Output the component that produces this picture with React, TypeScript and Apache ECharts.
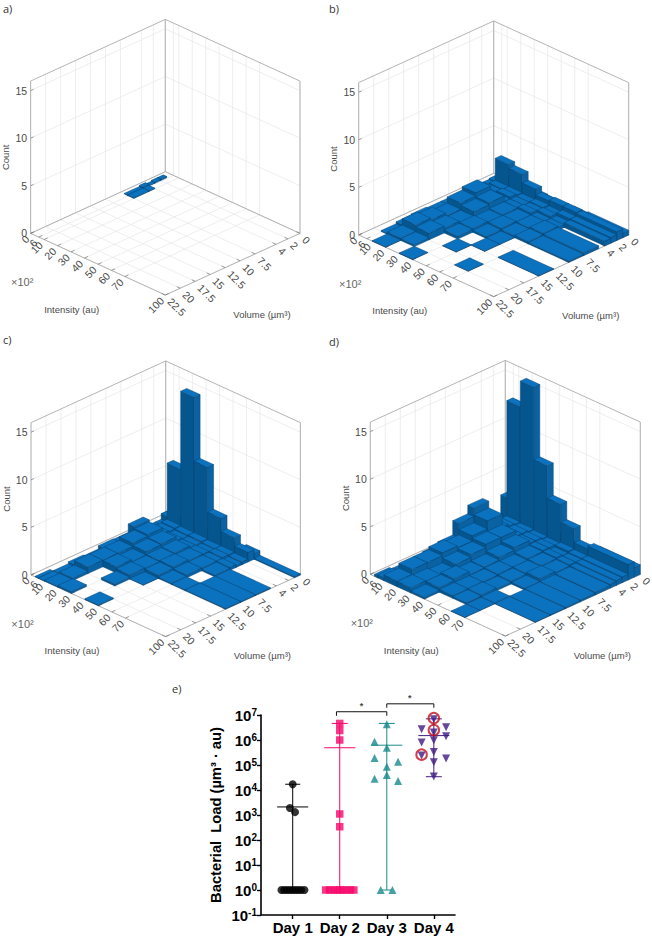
import React, { useEffect, useRef } from "react";
import * as echarts from "echarts";

// ---------- 3D histogram data ----------
const intensityEdges = [3, 5.5, 10, 20, 30, 40, 50, 60, 70, 100];
const volumeEdges = [0, 1, 2, 3, 4, 5, 7.5, 10, 12.5, 15, 17.5, 20, 22.5];
const intensityTicks = [0, 6, 10, 20, 30, 40, 50, 60, 70, 100];
const volumeTicks = [0, 2, 4, 7.5, 10, 12.5, 15, 17.5, 20, 22.5];
const countTicks = [0, 5, 10, 15];

// rows: volume bins, columns: intensity bins
const countsA = [
  [0, 0, 0, 0, 0, 0, 0, 0, 0],
  [0.15, 0, 0, 0, 0, 0, 0, 0, 0],
  [0.15, 0, 0, 0, 0, 0, 0, 0, 0],
  [0.05, 0, 0, 0, 0, 0, 0, 0, 0],
  [0.2, 0.08, 0, 0, 0, 0, 0, 0, 0],
  [0.08, 0.08, 0, 0, 0, 0, 0, 0, 0],
];
const countsB = [
  [0, 0, 0.4, 0.4, 0.4, 0.3, 0.3, 0.4, 0.5],
  [0, 0.4, 2.8, 2.4, 1.5, 0.9, 1.0, 1.0, 0.9],
  [0, 0.3, 0.5, 0.5, 0.4, 0.5, 0.4, 0.6, 0.6],
  [0, 0.3, 0.4, 0.6, 0.4, 0.4, 0.5, 0.3, 0.5],
  [0, 0.2, 0.5, 0.4, 0.4, 0.5, 0.3, 0.3, 0],
  [0, 0.4, 1.4, 1.0, 0.4, 0.3, 0.3, 0.4, 0.3],
  [0, 0.3, 1.05, 0.8, 0.3, 0.35, 0.2, 0.25, 0.15],
  [0, 0.3, 0.4, 0.3, 0.4, 0.2, 0.05, 0, 0],
  [0, 0.4, 0.7, 0.5, 0.3, 0, 0.05, 0, 0.05],
  [0, 0.3, 0.9, 0.7, 0, 0.05, 0, 0, 0],
  [0, 0.1, 0.25, 0.2, 0, 0, 0, 0.05, 0],
  [0, 0, 0.05, 0, 0.05, 0, 0, 0, 0],
];
const countsC = [
  [0, 0.1, 0.3, 0.3, 0.3, 0.3, 0.3, 0.6, 0.12],
  [0, 0.9, 6.5, 14.7, 8, 3.3, 1.9, 1, 0],
  [0, 0.3, 0.6, 0.5, 0.5, 0.4, 0.4, 0.3, 0],
  [0, 0.3, 0.5, 0.4, 0.4, 0.3, 0.4, 0.2, 0],
  [0, 0.3, 0.6, 0.5, 0.4, 0.4, 0.3, 0.3, 0],
  [0, 1.4, 1.2, 0.9, 0.6, 0.4, 0.3, 0.2, 0.1],
  [0, 0.5, 1.05, 0.8, 0.5, 0.5, 0.3, 0, 0.1],
  [0, 0.55, 0.7, 0.45, 0.4, 0.35, 0.15, 0.1, 0.1],
  [0, 0.2, 0.7, 0.65, 0.45, 0.05, 0, 0, 0],
  [0, 0.3, 0.7, 0, 0.2, 0, 0, 0, 0],
  [0, 0.1, 0.25, 0, 0, 0, 0, 0, 0],
  [0.05, 0.05, 0.1, 0.2, 0, 0.1, 0, 0, 0],
];
const countsD = [
  [0, 0.3, 0.6, 0.6, 0.5, 0.5, 0.4, 0.4, 1.0],
  [0, 2.8, 13, 15.7, 8.1, 4.7, 2.8, 1.3, 1.6],
  [0, 0.6, 0.9, 0.8, 0.7, 0.6, 0.7, 0.6, 0.6],
  [0, 0.8, 1.0, 0.9, 0.8, 0.7, 0.5, 0.5, 0.5],
  [0, 0.8, 1.2, 0.9, 0.8, 0.7, 0.6, 0.5, 0.4],
  [0, 3.3, 2.6, 1.5, 1.1, 0.6, 0.5, 0.4, 0.3],
  [0, 2.4, 1.75, 1.5, 0.8, 0.4, 0.4, 0.5, 0.2],
  [0, 0.9, 1.2, 1.15, 0.5, 0.4, 0.3, 0.2, 0.15],
  [0, 0.6, 1.4, 0.85, 0.4, 0.3, 0.2, 0, 0.1],
  [0, 0.4, 1.1, 0.35, 0.7, 0.3, 0.3, 0.1, 0.05],
  [0, 0.3, 1.1, 0.5, 0.5, 0.3, 0.2, 0.05, 0],
  [0.2, 0.3, 0.6, 0.55, 0.2, 0, 0, 0.05, 0],
];

// ---------- Bacterial load data ----------
const dayLabels = ["Day 1", "Day 2", "Day 3", "Day 4"];
const day1Points = [
  [1, 1.7e4], [0.94, 1.9e3], [1.05, 1.3e3],
  [0.76, 1], [0.82, 1], [0.88, 1], [0.94, 1], [1, 1], [1.06, 1], [1.12, 1], [1.18, 1], [1.25, 1],
];
const day2Points = [
  [2, 4.6e6], [2, 2.4e6], [2, 1.0e6], [2, 1.1e3], [2, 3.4e2],
  [1.7, 1], [1.78, 1], [1.86, 1], [1.94, 1], [2, 1], [2.07, 1], [2.15, 1], [2.23, 1], [2.3, 1],
];
const day3Points = [
  [3, 4.3e6], [2.74, 8.5e5], [3, 4.9e5], [2.74, 1.9e5], [3.24, 1.35e5],
  [3, 8.5e4], [3, 4e4], [2.74, 2.8e4], [3.24, 2.3e4], [2.87, 1], [3.12, 1],
];
const day4Points = [
  [4, 6.7e6], [3.74, 2.7e6], [4.26, 3.2e6], [4, 2.0e6], [4.26, 1.4e6], [3.74, 7.9e5],
  [4, 9.8e5], [4, 3.3e5], [3.74, 2.4e5], [4, 1.3e5], [4.26, 1.8e5], [4, 3.5e4],
];
const day4Circled = [[4, 7.5e6], [4, 2.5e6], [3.74, 2.6e5]];
const summaries = [
  { day: 1, mean: 2.1e3, hi: 1.7e4, lo: 1, w: 0.33, cap: 0.16, color: "#000000" },
  { day: 2, mean: 4.9e5, hi: 4.6e6, lo: 1, w: 0.33, cap: 0.17, color: "#f5086c" },
  { day: 3, mean: 6.2e5, hi: 4.6e6, lo: 1, w: 0.33, cap: 0.17, color: "#1b8a8e" },
  { day: 4, mean: 1.5e6, hi: 7e6, lo: 3.4e4, w: 0.33, cap: 0.17, color: "#431c85" },
];
const bracketA = [[1.93, 9.3e6], [1.93, 1.35e7], [3, 1.35e7], [3, 9.3e6]];
const bracketB = [[3, 1.95e7], [3, 2.8e7], [4, 2.8e7], [4, 1.95e7]];
const stars = [[2.46, 2.3e7], [3.49, 4.8e7]];

// ---------- Layout of the four 3D boxes ----------
const panels = [
  { tag: "a)", tagX: 3, tagY: 8, backX: 165.3, backY: 171.7, half: 134.67, counts: countsA },
  { tag: "b)", tagX: 329, tagY: 8, backX: 493.7, backY: 173.3, half: 135, counts: countsB },
  { tag: "c)", tagX: 3, tagY: 339, backX: 165.7, backY: 513.3, half: 134.67, counts: countsC },
  { tag: "d)", tagX: 329, tagY: 341, backX: 505.3, backY: 512.7, half: 135, counts: countsD },
];
const DROP = 61.67;
const UNIT = 9.52;
const ZMAX = 16;
const TICK_FONT = '10.5px "Liberation Sans"';
const TEXT = "#4a4a4a";
const GRIDC = "#e6e6e6";
const BOX = "#ababab";

type P = (typeof panels)[number];
const project = (p: P, i: number, v: number, z: number): number[] => [
  p.backX + (i / 100) * p.half - (v / 22.5) * p.half,
  p.backY + (i / 100) * DROP + (v / 22.5) * DROP - z * UNIT,
];

const line = (a: number[], b: number[], stroke: string, lineWidth = 0.7) => ({
  type: "line",
  shape: { x1: a[0], y1: a[1], x2: b[0], y2: b[1] },
  style: { stroke, lineWidth },
  silent: true,
});
const label = (x: number, y: number, text: string, rotation = 0, align = "center", font = TICK_FONT, fill = TEXT) => ({
  type: "text",
  x,
  y,
  rotation,
  style: { text, font, fill, align, verticalAlign: "middle" },
  silent: true,
});

function frameSeries(p: P) {
  return {
    type: "custom",
    coordinateSystem: "none",
    silent: true,
    z: 1,
    data: [[0]],
    renderItem: () => {
      const ch: any[] = [];
      for (const t of intensityTicks) {
        ch.push(line(project(p, t, 0, 0), project(p, t, 22.5, 0), GRIDC));
        ch.push(line(project(p, t, 0, 0), project(p, t, 0, ZMAX), GRIDC));
      }
      for (const t of volumeTicks) {
        ch.push(line(project(p, 0, t, 0), project(p, 100, t, 0), GRIDC));
        ch.push(line(project(p, 0, t, 0), project(p, 0, t, ZMAX), GRIDC));
      }
      for (const t of countTicks) {
        ch.push(line(project(p, 0, 22.5, t), project(p, 0, 0, t), GRIDC));
        ch.push(line(project(p, 0, 0, t), project(p, 100, 0, t), GRIDC));
      }
      const L0 = project(p, 0, 22.5, 0), L1 = project(p, 0, 22.5, ZMAX);
      const R0 = project(p, 100, 0, 0), R1 = project(p, 100, 0, ZMAX);
      const B0 = project(p, 0, 0, 0), B1 = project(p, 0, 0, ZMAX);
      const F0 = project(p, 100, 22.5, 0);
      [[L0, L1], [R0, R1], [B0, B1], [L1, B1], [B1, R1], [L0, B0], [B0, R0], [L0, F0], [F0, R0]].forEach(([a, b]) =>
        ch.push(line(a, b, BOX, 0.9))
      );
      for (const t of intensityTicks) {
        const a = project(p, t, 22.5, 0);
        ch.push(line(a, project(p, t, 21.9, 0), "#777777", 0.7));
        ch.push(label(a[0] - 3, a[1] + 4, String(t), Math.PI / 4, "right"));
      }
      for (const t of volumeTicks) {
        const a = project(p, 100, t, 0);
        ch.push(line(a, project(p, 97.4, t, 0), "#777777", 0.7));
        ch.push(label(a[0] + 4, a[1] + 5, String(t), -Math.PI / 4, "left"));
      }
      for (const t of countTicks) {
        const a = project(p, 0, 22.5, t);
        ch.push(line(a, [a[0] + 3, a[1] - 1.3], "#777777", 0.7));
        ch.push(label(a[0] - 3.5, a[1], String(t), 0, "right"));
      }
      ch.push(label(L0[0] - 25, L0[1] - 76, "Count", Math.PI / 2, "center", '9.5px "Liberation Sans"'));
      ch.push(label(L0[0] + 41, F0[1] + 14, "Intensity (au)", 0, "center", '9.5px "Liberation Sans"'));
      ch.push(label(R0[0] - 38, F0[1] + 19, "Volume (µm³)", 0, "center", '9.5px "Liberation Sans"'));
      ch.push(label(L0[0] - 8.5, F0[1] - 13, "×10²", 0, "center", '11px "Liberation Sans"', "#666666"));
      ch.push(label(p.tagX, p.tagY, p.tag, 0, "left", '11px "Open Sans"', "#333333"));
      return { type: "group", children: ch };
    },
  };
}

function barsSeries(p: P) {
  const data: number[][] = [];
  p.counts.forEach((row, v) => row.forEach((c, i) => { if (c > 0) data.push([i, v, c]); }));
  return {
    type: "custom",
    coordinateSystem: "none",
    silent: true,
    z: 2,
    data,
    renderItem: (_: any, api: any) => {
      const ib = api.value(0), vb = api.value(1), c = api.value(2);
      const i0 = intensityEdges[ib], i1 = intensityEdges[ib + 1];
      const v0 = volumeEdges[vb], v1 = volumeEdges[vb + 1];
      const stroke = "#06406d";
      const lineWidth = 0.45;
      const poly = (pts: number[][], fill: string) => ({
        type: "polygon",
        shape: { points: pts },
        style: { fill, stroke, lineWidth },
        silent: true,
      });
      return {
        type: "group",
        children: [
          poly([project(p, i0, v1, 0), project(p, i1, v1, 0), project(p, i1, v1, c), project(p, i0, v1, c)], "#05568f"),
          poly([project(p, i1, v1, 0), project(p, i1, v0, 0), project(p, i1, v0, c), project(p, i1, v1, c)], "#0a62a3"),
          poly([project(p, i0, v0, c), project(p, i1, v0, c), project(p, i1, v1, c), project(p, i0, v1, c)], "#0b72bf"),
        ],
      };
    },
  };
}

function loadSeries() {
  const xy = { xAxisIndex: 0, yAxisIndex: 0 };
  const seg = (pts: number[][], color: string, width: number) => ({
    type: "line",
    ...xy,
    data: pts,
    symbol: "none",
    clip: false,
    silent: true,
    z: 3,
    lineStyle: { color, width },
  });
  const out: any[] = [];
  for (const s of summaries) {
    out.push(seg([[s.day, s.hi], [s.day, s.lo]], s.color, 1));
    out.push(seg([[s.day - s.w, s.mean], [s.day + s.w, s.mean]], s.color, 1));
    out.push(seg([[s.day - s.cap, s.hi], [s.day + s.cap, s.hi]], s.color, 1));
    if (s.day >= 3) out.push(seg([[s.day - s.cap * (s.day === 3 ? 0.6 : 1), s.lo], [s.day + s.cap * (s.day === 3 ? 0.6 : 1), s.lo]], s.color, 1));
  }
  out.push(seg(bracketA, "#111111", 1));
  out.push(seg(bracketB, "#111111", 1));
  const sc = (data: number[][], symbol: string, symbolSize: number, color: string, symbolRotate = 0) => ({
    type: "scatter",
    ...xy,
    data,
    symbol,
    symbolSize,
    symbolRotate,
    clip: false,
    silent: true,
    z: 4,
    itemStyle: { color },
  });
  out.push(sc(day1Points, "circle", 8, "#000000"));
  out.push(sc(day2Points, "rect", 7.5, "#f5086c"));
  out.push(sc(day3Points, "triangle", 8, "#178a8c"));
  out.push(sc(day4Points, "triangle", 8, "#3f1a83", 180));
  out.push({
    type: "scatter",
    ...xy,
    data: day4Circled,
    symbol: "circle",
    symbolSize: 10.5,
    clip: false,
    silent: true,
    z: 5,
    itemStyle: { color: "transparent", borderColor: "#c4121f", borderWidth: 2 },
  });
  out.push({
    type: "scatter",
    ...xy,
    data: stars,
    symbolSize: 0,
    clip: false,
    silent: true,
    z: 5,
    label: { show: true, position: "inside", formatter: "*", fontSize: 9, fontWeight: "bold", color: "#111", fontFamily: "Liberation Sans" },
  });
  return out;
}

export default function App() {
  const ref = useRef<HTMLDivElement>(null);
  useEffect(() => {
    const chart = echarts.init(ref.current!, undefined, { renderer: "svg" });
    chart.setOption({
      animation: false,
      backgroundColor: "#ffffff",
      grid: { left: 261, top: 715, width: 194, height: 200, containLabel: false },
      xAxis: {
        type: "value",
        min: 0.326,
        max: 4.45,
        splitLine: { show: false },
        axisLine: { show: true, onZero: false, lineStyle: { color: "#000", width: 1.6 } },
        axisTick: { show: true, customValues: [1, 2, 3, 4], length: 4, lineStyle: { color: "#000", width: 1.4 } },
        axisLabel: {
          customValues: [1, 2, 3, 4],
          formatter: (v: number) => dayLabels[Math.round(v) - 1],
          color: "#000",
          fontFamily: "Liberation Sans",
          fontWeight: "bold",
          fontSize: 15,
          margin: 5,
        },
      },
      yAxis: {
        type: "log",
        logBase: 10,
        min: 0.1,
        max: 1e7,
        splitLine: { show: false },
        minorTick: { show: false },
        axisLine: { show: true, onZero: false, lineStyle: { color: "#000", width: 1.6 } },
        axisTick: { show: true, length: 4, lineStyle: { color: "#000", width: 1.4 } },
        name: "Bacterial  Load (µm³ · au)",
        nameLocation: "middle",
        nameGap: 38,
        nameRotate: 90,
        nameTextStyle: { color: "#000", fontFamily: "Liberation Sans", fontWeight: "bold", fontSize: 14.7 },
        axisLabel: {
          margin: 4,
          formatter: (v: number) => `{a|10}{b|${Math.round(Math.log10(v))}}`,
          rich: {
            a: { fontFamily: "Liberation Sans", fontWeight: "bold", fontSize: 15, color: "#000" },
            b: { fontFamily: "Liberation Sans", fontWeight: "bold", fontSize: 10, color: "#000", verticalAlign: "top", lineHeight: 12 },
          },
        },
      },
      series: [
        ...panels.flatMap((p) => [frameSeries(p), barsSeries(p)]),
        ...loadSeries(),
      ],
      graphic: [
        { type: "text", x: 172, y: 683, style: { text: "e)", font: '11px "Open Sans"', fill: "#333333" }, silent: true },
      ],
    });
    return () => chart.dispose();
  }, []);
  return <div ref={ref} style={{ position: "absolute", left: 0, top: 0, width: 652, height: 937 }} />;
}
